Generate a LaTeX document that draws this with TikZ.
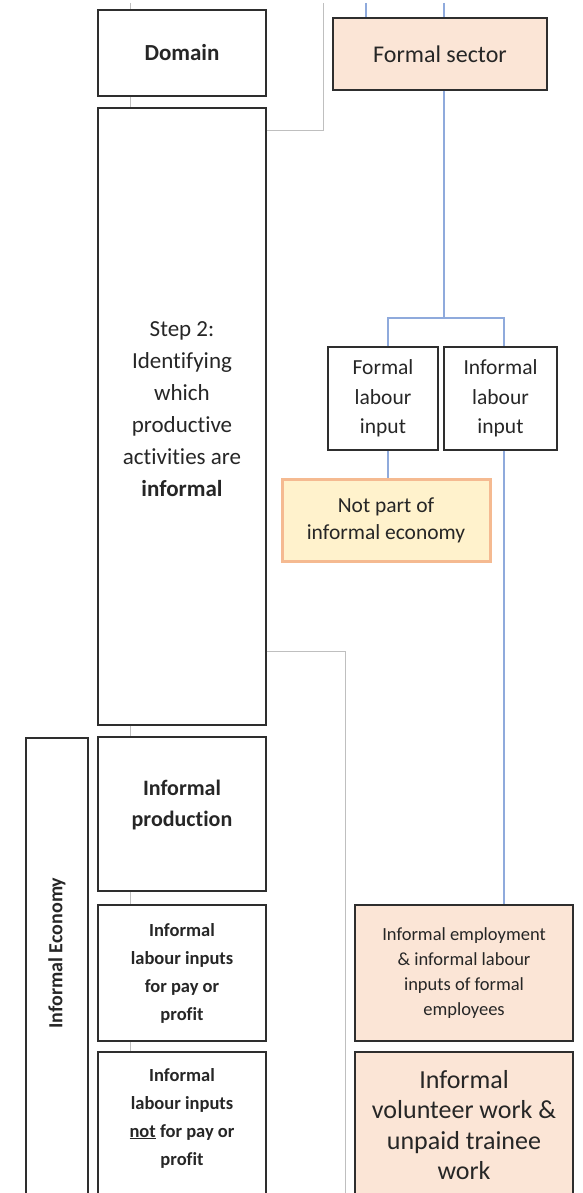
\documentclass[tikz,border=0pt]{standalone}
\usepackage{fontspec}
\setmainfont{Carlito}[Ligatures={NoCommon}]
\begin{document}
\begin{tikzpicture}[x=1pt,y=-1pt,
  box/.style={draw=black!82,line width=1.9pt,rectangle,inner sep=0pt,align=center,text=black!85},
  peach/.style={box,fill=peachfill},
  greyline/.style={draw=black!25,line width=0.9pt},
  blueline/.style={draw=blueconn,line width=1.5pt},
]
\definecolor{peachfill}{HTML}{FBE5D6}
\definecolor{blueconn}{HTML}{8FAADC}
\definecolor{notfill}{HTML}{FFF2CC}
\definecolor{notdraw}{HTML}{F5BA91}
\useasboundingbox (0,0) rectangle (582,1193);
\begin{scope}
\clip (0,0) rectangle (582,1193);

% left column
\node[box,minimum width=168,minimum height=86,font=\fontsize{23}{30}\selectfont\bfseries] (domain) at (182,53) {Domain};
\node[box,minimum width=168,minimum height=617] (step) at (182,416.5) {};
\node[align=center,text=black!85,font=\fontsize{23}{32}\selectfont] (steptxt) at (182,409)
  {Step 2:\\Identifying\\which\\productive\\activities are\\\textbf{informal}};
\node[box,minimum width=168,minimum height=154] (prod) at (182,814) {};
\node[align=center,text=black!85,font=\fontsize{22}{31}\selectfont\bfseries] (prodtxt) at (182,805)
  {Informal\\production};
\node[box,minimum width=168,minimum height=136,font=\fontsize{18.5}{28}\selectfont\bfseries] (pay) at (182,973)
  {Informal\\labour inputs\\for pay or\\profit};
\node[box,minimum width=168,minimum height=180,anchor=north] (notpay) at (182,1051) {};
\node[align=center,text=black!85,font=\fontsize{18.5}{28}\selectfont\bfseries] (notpaytxt) at (182,1118)
  {Informal\\labour inputs\\\underline{not} for pay or\\profit};

% informal economy bracket
\node[box,minimum width=62,minimum height=500,anchor=north] (ie) at (57,737) {};
\node[rotate=90,text=black!85,font=\fontsize{20}{24}\selectfont\bfseries] (ietxt) at (57,953) {Informal Economy};

% right column
\node[peach,minimum width=214,minimum height=72,font=\fontsize{24}{30}\selectfont] (sector) at (440,54) {Formal sector};
\node[box,minimum width=110,minimum height=103,font=\fontsize{21.5}{29.5}\selectfont] (flab) at (383,398.5)
  {Formal\\labour\\input};
\node[box,minimum width=113,minimum height=103,font=\fontsize{21.5}{29.5}\selectfont] (ilab) at (500.5,398.5)
  {Informal\\labour\\input};
\node[draw=notdraw,line width=3pt,fill=notfill,rectangle,minimum width=208,minimum height=82,align=center,
  text=black!85,font=\fontsize{21.5}{27}\selectfont] (notpart) at (386,520)
  {Not part of\\informal economy};
\node[peach,minimum width=218,minimum height=136,font=\fontsize{18.5}{25}\selectfont] (emp) at (464,973)
  {Informal employment\\\& informal labour\\inputs of formal\\employees};
\node[peach,minimum width=218,minimum height=180,anchor=north] (vol) at (464,1051) {};
\node[align=center,text=black!85,font=\fontsize{26}{30.5}\selectfont] (voltxt) at (464,1125)
  {Informal\\volunteer work \&\\unpaid trainee\\work};

% grey connectors
\coordinate (gtopA) at (130,3);
\coordinate (gtopB) at (323,3);
\coordinate (gbot) at (345,1200);
\draw[greyline] (gtopA) -- (gtopA |- domain.north);
\draw[greyline] (gtopA |- domain.south) -- (gtopA |- step.north);
\draw[greyline] (step.east |- 0,130) -- (gtopB |- 0,130) -- (gtopB);
\draw[greyline] (step.east |- 0,651) -- (gbot |- 0,651) -- (gbot);
\draw[greyline] (gtopA |- step.south) -- (gtopA |- prod.north);
\draw[greyline] (gtopA |- prod.south) -- (gtopA |- pay.north);
\draw[greyline] (gtopA |- pay.south) -- (gtopA |- notpay.north);

% blue connectors
\coordinate (btopA) at (366,3);
\coordinate (btopB) at (444,3);
\coordinate (split) at (444,318);
\coordinate (lfork) at (388,318);
\coordinate (rfork) at (504,318);
\draw[blueline] (btopA) -- (btopA |- sector.north);
\draw[blueline] (btopB) -- (btopB |- sector.north);
\draw[blueline] (btopB |- sector.south) -- (split);
\draw[blueline] (lfork |- flab.north) -- (lfork) -- (rfork) -- (rfork |- ilab.north);
\draw[blueline] (lfork |- flab.south) -- (lfork |- notpart.north);
\draw[blueline] (rfork |- ilab.south) -- (rfork |- emp.north);
\end{scope}
\end{tikzpicture}
\end{document}
